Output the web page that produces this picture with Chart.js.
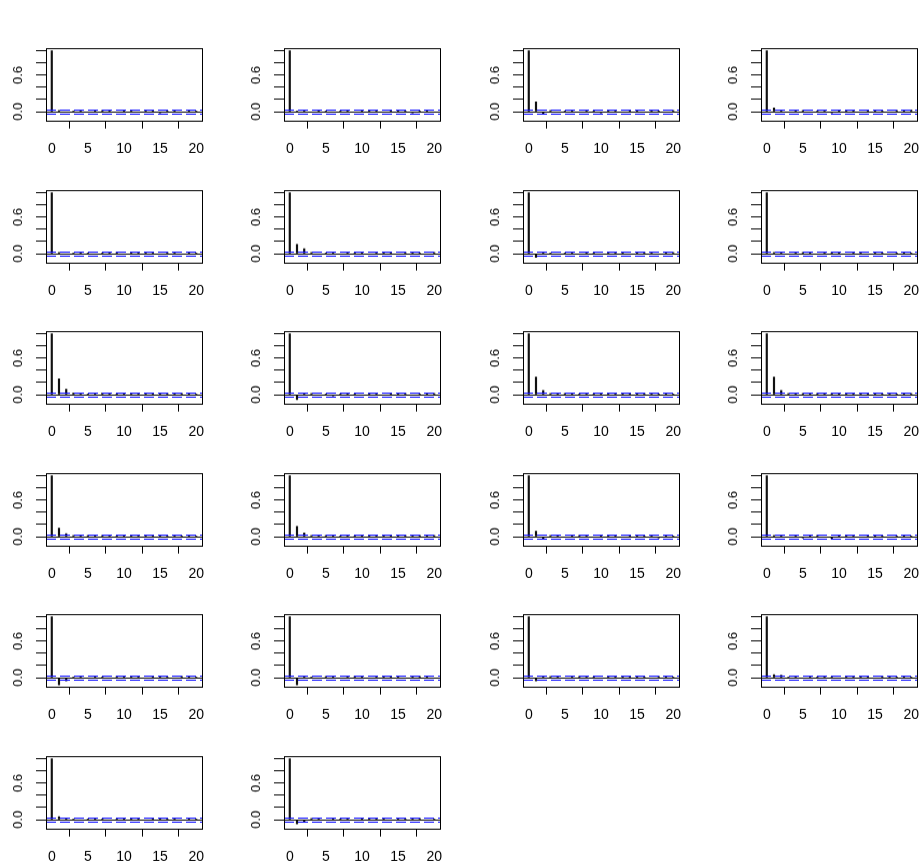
<!DOCTYPE html>
<html>
<head>
<meta charset="utf-8">
<script src="https://cdn.jsdelivr.net/npm/chart.js@4.4.1/dist/chart.umd.min.js"></script>
<style>
  body { margin: 0; background: #fff; width: 923px; height: 861px; position: relative; overflow: hidden; }
  canvas.panel { position: absolute; }
</style>
</head>
<body>
<script>
// lags and axis ticks
const lags = [0, 1, 2, 3, 4, 5, 6, 7, 8, 9, 10, 11, 12, 13, 14, 15, 16, 17, 18, 19, 20];
const xTicks = [0, 5, 10, 15, 20];
const yTicks = [0, 0.2, 0.4, 0.6, 0.8, 1.0];
const yShown = [0, 0.6];
const clim = 0.04; // 95% band

// acf per panel (row by row)
const acf01 = [1, 0.02, -0.01, 0.01, 0.02, -0.01, 0.01, 0.02, 0.01, -0.01, 0.02, 0.01, -0.01, 0.01, 0.02, -0.02, 0.01, 0.01, -0.01, 0.02, 0.01];
const acf02 = [1, 0.01, 0.02, -0.01, 0.01, 0.01, -0.01, 0.01, 0.02, -0.01, 0.01, 0.01, 0.02, -0.01, 0.01, 0.02, 0.01, -0.02, 0.01, 0.01, -0.01];
const acf03 = [1, 0.16, -0.04, 0.02, -0.01, 0.01, 0.01, -0.01, 0.02, 0.01, -0.02, 0.01, 0.02, -0.01, 0.01, 0.01, -0.01, 0.02, 0.01, -0.01, 0.02];
const acf04 = [1, 0.06, 0.02, -0.01, 0.01, 0.02, -0.01, 0.01, 0.01, -0.02, 0.01, 0.02, 0.01, -0.01, 0.02, 0.01, 0.01, -0.01, 0.02, 0.01, 0.03];
const acf05 = [1, 0.02, -0.01, 0.01, 0.02, 0.01, -0.01, 0.01, 0.01, 0.02, -0.01, 0.01, 0.02, 0.01, 0.01, -0.01, 0.02, 0.01, -0.01, 0.02, 0.01];
const acf06 = [1, 0.15, 0.08, 0.02, -0.01, 0.01, 0.02, -0.01, 0.01, 0.01, 0.02, -0.01, 0.01, 0.02, 0.01, -0.01, 0.02, 0.01, 0.01, -0.01, 0.02];
const acf07 = [1, -0.06, 0.02, 0.01, -0.01, 0.01, 0.01, -0.01, 0.02, 0.01, -0.01, 0.01, 0.02, 0.01, -0.01, 0.01, 0.02, 0.01, -0.01, 0.01, 0.02];
const acf08 = [1, 0.02, 0.01, -0.01, 0.01, 0.02, 0.01, -0.01, 0.01, 0.02, 0.01, -0.01, 0.01, 0.01, -0.01, 0.02, 0.01, -0.01, 0.01, 0.02, 0.01];
const acf09 = [1, 0.26, 0.09, 0.03, 0.02, 0.01, 0.02, 0.03, 0.02, 0.01, 0.02, 0.03, 0.02, 0.01, 0.02, 0.01, 0.02, 0.01, 0.02, 0.02, 0.01];
const acf10 = [1, -0.08, 0.01, 0.02, -0.01, 0.01, -0.02, 0.01, 0.02, 0.01, -0.01, 0.01, 0.02, -0.01, 0.01, 0.01, 0.02, -0.01, 0.01, 0.01, 0.02];
const acf11 = [1, 0.29, 0.07, 0.02, 0.01, 0.02, 0.01, 0.01, 0.02, 0.01, 0.01, 0.02, 0.01, 0.01, 0.02, 0.01, 0.02, 0.01, 0.01, 0.02, 0.01];
const acf12 = [1, 0.29, 0.07, 0.02, 0.01, 0.02, 0.01, 0.02, 0.01, 0.02, 0.01, 0.01, 0.02, 0.01, 0.02, 0.01, 0.01, 0.02, 0.01, 0.01, 0.02];
const acf13 = [1, 0.14, 0.05, 0.02, 0.01, 0.02, 0.01, 0.02, 0.03, 0.01, 0.02, 0.01, 0.02, 0.01, 0.01, 0.02, 0.01, 0.02, 0.01, 0.02, 0.01];
const acf14 = [1, 0.17, 0.06, 0.02, 0.01, 0.02, 0.01, 0.01, 0.02, 0.01, 0.01, 0.02, 0.01, 0.01, 0.02, 0.01, 0.02, 0.03, 0.02, 0.03, 0.02];
const acf15 = [1, 0.09, -0.03, 0.02, 0.01, -0.01, 0.01, 0.02, 0.01, -0.01, 0.01, 0.01, 0.02, -0.01, 0.01, 0.02, 0.01, 0.01, -0.02, 0.01, 0.01];
const acf16 = [1, 0.02, 0.01, -0.01, 0.01, -0.02, 0.01, 0.02, -0.01, -0.03, 0.01, 0.02, 0.01, -0.01, 0.01, 0.02, 0.01, -0.01, 0.01, 0.02, 0.01];
const acf17 = [1, -0.12, -0.05, 0.01, 0.02, -0.01, 0.01, 0.01, -0.01, 0.02, 0.01, 0.02, 0.01, -0.01, 0.02, 0.01, 0.01, -0.01, 0.02, 0.01, 0.01];
const acf18 = [1, -0.12, 0.02, 0.01, -0.01, 0.02, 0.01, -0.01, 0.01, 0.02, 0.01, -0.01, 0.01, 0.02, 0.01, 0.01, -0.01, 0.01, 0.02, 0.01, -0.01];
const acf19 = [1, -0.05, 0.01, 0.02, 0.01, -0.01, 0.01, 0.02, 0.01, 0.01, -0.01, 0.01, 0.02, 0.01, 0.01, 0.02, 0.01, -0.01, 0.02, 0.01, 0.01];
const acf20 = [1, 0.05, 0.04, 0.01, 0.02, -0.01, 0.01, 0.01, 0.02, 0.01, -0.01, 0.01, 0.02, 0.01, 0.01, -0.01, 0.02, 0.01, 0.01, 0.02, 0.01];
const acf21 = [1, 0.05, 0.02, 0.01, -0.01, 0.01, 0.02, 0.01, -0.01, 0.01, 0.02, 0.01, 0.01, -0.01, 0.02, 0.01, 0.01, 0.02, -0.01, 0.01, 0.01];
const acf22 = [1, -0.07, -0.03, 0.02, 0.01, -0.01, 0.02, 0.01, 0.01, -0.01, 0.01, 0.02, 0.01, 0.01, -0.01, 0.02, 0.01, 0.01, 0.02, -0.01, 0.01];

const panels = [acf01, acf02, acf03, acf04, acf05, acf06, acf07, acf08, acf09, acf10, acf11,
                acf12, acf13, acf14, acf15, acf16, acf17, acf18, acf19, acf20, acf21, acf22];

// grid geometry (plot box of each panel)
const colLeft = [46, 284, 523, 761];
const rowTop = [48, 190, 331, 473, 614, 756];
const boxW = 157, boxH = 72;
const padL = 46, padB = 42;

const xFont = { family: "'Liberation Sans', Arial, sans-serif", size: 14 };
const yFont = { family: "'Liberation Sans', Arial, sans-serif", size: 13 };

// zero line, dashed blue limits, box
const acfLines = {
  id: 'acfLines',
  afterDatasetsDraw(chart) {
    const { ctx, chartArea: a, scales: { y } } = chart;
    ctx.save();
    ctx.lineWidth = 1;
    const y0 = Math.round(y.getPixelForValue(0)) + 0.5;
    ctx.strokeStyle = '#000';
    ctx.beginPath(); ctx.moveTo(a.left, y0); ctx.lineTo(a.right, y0); ctx.stroke();
    ctx.strokeStyle = '#0000ff';
    ctx.setLineDash([10, 4]);
    [clim, -clim].forEach(v => {
      const yy = Math.round(y.getPixelForValue(v)) + 0.5;
      ctx.beginPath(); ctx.moveTo(a.left, yy); ctx.lineTo(a.right, yy); ctx.stroke();
    });
    ctx.setLineDash([]);
    ctx.strokeStyle = '#000';
    ctx.strokeRect(Math.round(a.left) + 0.5, Math.round(a.top) + 0.5,
                   Math.round(a.right - a.left), Math.round(a.bottom - a.top));
    ctx.restore();
  }
};

function makePanel(vals, i) {
  const r = Math.floor(i / 4), c = i % 4;
  const cv = document.createElement('canvas');
  cv.className = 'panel';
  cv.width = padL + boxW + 12;
  cv.height = 16 + boxH + padB;
  document.body.appendChild(cv);

  const chart = new Chart(cv.getContext('2d'), {
    type: 'bar',
    data: {
      datasets: [{
        data: lags.map((l, k) => ({ x: l, y: vals[k] })),
        backgroundColor: '#111',
        borderWidth: 0,
        barThickness: 1.5
      }]
    },
    options: {
      responsive: false,
      animation: false,
      layout: { autoPadding: false, padding: 0 },
      plugins: { legend: { display: false }, tooltip: { enabled: false } },
      scales: {
        x: {
          type: 'linear', min: -0.8, max: 20.8, offset: false,
          afterBuildTicks: s => { s.ticks = xTicks.map(v => ({ value: v })); },
          afterFit: s => { s.height = padB; },
          border: { display: false },
          grid: { drawOnChartArea: false, drawTicks: true, tickLength: 8, color: '#000' },
          ticks: { color: '#000', font: xFont, padding: 12, maxRotation: 0, autoSkip: false,
                   callback: v => String(v) }
        },
        y: {
          min: -0.145, max: 1.045,
          afterBuildTicks: s => { s.ticks = yTicks.map(v => ({ value: v })); },
          afterFit: s => { s.width = padL; },
          border: { display: false },
          grid: { drawOnChartArea: false, drawTicks: true, tickLength: 10, color: '#000' },
          ticks: { color: '#000', font: yFont, padding: 9, minRotation: 90, maxRotation: 90,
                   crossAlign: 'center', autoSkip: false,
                   callback: v => yShown.some(s => Math.abs(s - v) < 1e-9) ? v.toFixed(1) : '' }
        }
      }
    },
    plugins: [acfLines]
  });

  // grow the canvas so the plot box gets its size, then place it
  const a = chart.chartArea;
  chart.resize(cv.width + (boxW - (a.right - a.left)), cv.height + (boxH - (a.bottom - a.top)));
  const b = chart.chartArea;
  cv.style.left = (colLeft[c] - b.left) + 'px';
  cv.style.top = (rowTop[r] - b.top) + 'px';
}

panels.forEach(makePanel);
</script>
</body>
</html>
